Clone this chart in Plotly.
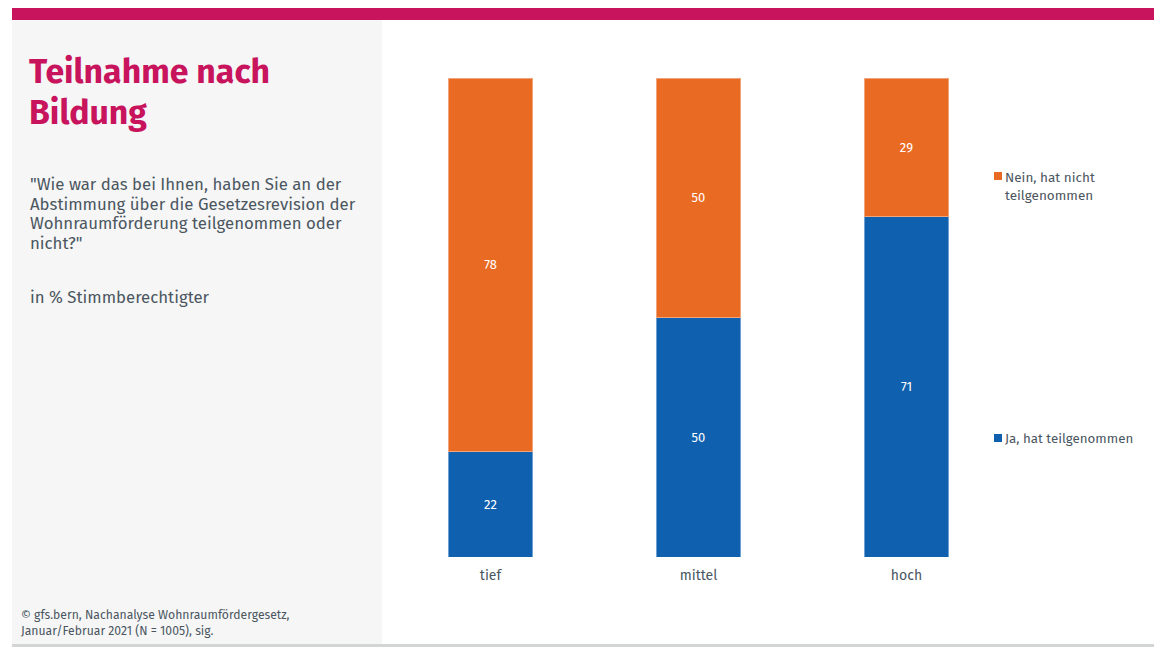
import plotly.graph_objects as go

categories = ["tief", "mittel", "hoch"]
ja = [22, 50, 71]
nein = [78, 50, 29]
series_names = ["Ja, hat teilgenommen", "Nein, hat nicht<br>teilgenommen"]
title_lines = ["Teilnahme nach", "Bildung"]
question_lines = [
    '"Wie war das bei Ihnen, haben Sie an der',
    "Abstimmung über die Gesetzesrevision der",
    "Wohnraumförderung teilgenommen oder",
    'nicht?"',
]

W, H = 1154, 647
BLUE = "#0F60AE"
ORANGE = "#E96A23"
MAGENTA = "#C8135D"
TEXT = "#4B5661"
FONT = "Fira Sans, Lato, Noto Sans, sans-serif"

def px_x(x):
    return x / W

def px_y(y):
    return 1 - y / H

fig = go.Figure()
fig.add_trace(go.Bar(
    x=categories, y=ja, name=series_names[0], marker_color=BLUE,
    marker_line=dict(color="#6FA0D4", width=1),
    text=ja, textposition="inside", insidetextanchor="middle",
    textfont=dict(color="white", size=13, family=FONT),
    width=0.4,
))
fig.add_trace(go.Bar(
    x=categories, y=nein, name=series_names[1], marker_color=ORANGE,
    marker_line=dict(color="#F2A57A", width=1),
    text=nein, textposition="inside", insidetextanchor="middle",
    textfont=dict(color="white", size=13, family=FONT),
    width=0.4,
))

shapes = [
    # left info panel
    dict(type="rect", xref="paper", yref="paper", x0=px_x(12), x1=px_x(382),
         y0=px_y(644), y1=px_y(20), fillcolor="#F6F6F6", line_width=0, layer="below"),
    # top accent band
    dict(type="rect", xref="paper", yref="paper", x0=px_x(12), x1=px_x(1154),
         y0=px_y(20), y1=px_y(8), fillcolor=MAGENTA, line_width=0),
    # bottom rule
    dict(type="rect", xref="paper", yref="paper", x0=px_x(12), x1=px_x(1154),
         y0=px_y(647), y1=px_y(644), fillcolor="#D3D4D4", line_width=0),
    # legend swatches
    dict(type="rect", xref="paper", yref="paper", x0=px_x(994), x1=px_x(1002),
         y0=px_y(180), y1=px_y(172), fillcolor=ORANGE, line_width=0),
    dict(type="rect", xref="paper", yref="paper", x0=px_x(994), x1=px_x(1002),
         y0=px_y(442), y1=px_y(434), fillcolor=BLUE, line_width=0),
]

def note(text, x, y, size, color=TEXT):
    return dict(text=text, xref="paper", yref="paper", x=px_x(x), y=px_y(y),
                xanchor="left", yanchor="top", showarrow=False, align="left",
                font=dict(size=size, color=color, family=FONT))

annotations = []
for i, line in enumerate(title_lines):
    annotations.append(note(f"<b>{line}</b>", 27, 49 + i * 41, 33.8, MAGENTA))
for i, line in enumerate(question_lines):
    annotations.append(note(line, 28, 172 + i * 19.5, 16.8))
annotations += [
    note("in % Stimmberechtigter", 28, 285, 16.8),
    note("© gfs.bern, Nachanalyse Wohnraumfördergesetz,<br>Januar/Februar 2021 (N = 1005), sig.",
         19, 606, 12.2),
    note(series_names[1], 1003, 167, 13.5),
    note(series_names[0], 1003, 429, 13.3),
]

fig.update_layout(
    width=W, height=H, barmode="stack", showlegend=False,
    margin=dict(l=0, r=0, t=0, b=0),
    paper_bgcolor="white", plot_bgcolor="rgba(0,0,0,0)",
    shapes=shapes, annotations=annotations,
    xaxis=dict(domain=[px_x(386.5), px_x(1010.5)], range=[-0.5, 2.5],
               showgrid=False, zeroline=False, showline=False, ticks="",
               ticklabelstandoff=8,
               tickfont=dict(size=14, color=TEXT, family=FONT)),
    yaxis=dict(domain=[px_y(557), px_y(78)], range=[0, 100], visible=False),
    uniformtext=dict(minsize=8, mode="show"),
)

fig.write_html("out.html")
